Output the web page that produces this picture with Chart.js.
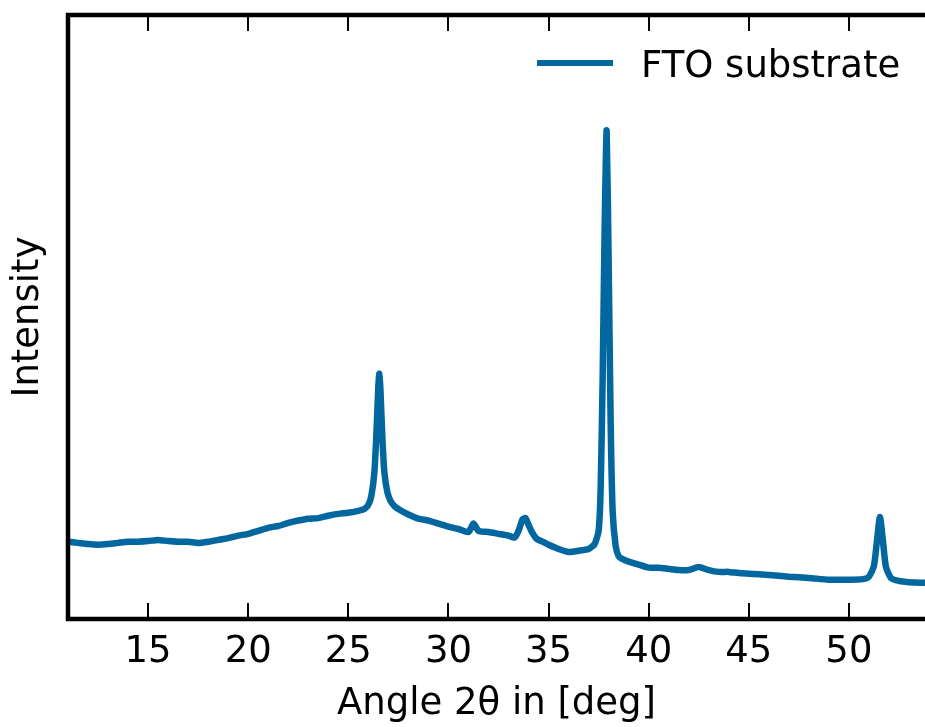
<!DOCTYPE html>
<html>
<head>
<meta charset="utf-8">
<script src="https://cdn.jsdelivr.net/npm/chart.js@4.4.0/dist/chart.umd.min.js"></script>
<style>
  html, body { margin: 0; padding: 0; background: #fff; overflow: hidden; }
  #wrap { width: 925px; height: 727px; }
</style>
</head>
<body>
<div id="wrap"><canvas id="xrd" width="925" height="727"></canvas></div>
<script>
// diffraction pattern (arbitrary intensity units)
const angles = [
  11.0, 11.5, 12.0, 12.5, 13.0, 13.5, 14.0, 14.5, 15.0, 15.5, 16.0, 16.5, 17.0, 17.5, 18.0, 18.5,
  19.0, 19.5, 20.0, 20.5, 21.0, 21.5, 22.0, 22.5, 23.0, 23.5, 24.0, 24.5, 25.0, 25.5, 25.8,
  26.0, 26.15, 26.3, 26.4, 26.5, 26.55, 26.6, 26.7, 26.8, 26.95, 27.1, 27.3, 27.6, 28.0, 28.5, 29.0, 29.5,
  30.0, 30.5, 31.0, 31.25, 31.5, 32.0, 32.5, 33.0, 33.3, 33.5, 33.7, 33.85, 34.0, 34.2, 34.4, 34.7,
  35.0, 35.5, 36.0, 36.5, 37.0, 37.3, 37.5, 37.6, 37.7, 37.8, 37.9, 38.0, 38.1, 38.2, 38.35,
  38.5, 38.7, 39.0, 39.5, 40.0, 40.5, 41.0, 41.5, 42.0, 42.5, 43.0, 43.5, 44.0, 44.5, 45.0,
  46.0, 47.0, 48.0, 49.0, 50.0, 50.7, 51.0, 51.25, 51.4, 51.55, 51.7, 51.85, 52.1, 52.5,
  53.0, 53.8
];
const intensity = [
  12.8, 12.6, 12.4, 12.3, 12.4, 12.6, 12.8, 12.8, 12.9, 13.1, 12.9, 12.8, 12.8, 12.6, 12.8, 13.1,
  13.4, 13.8, 14.1, 14.6, 15.1, 15.4, 15.9, 16.3, 16.6, 16.7, 17.1, 17.4, 17.6, 17.9, 18.2,
  18.9, 20.4, 24.2, 30.5, 38.6, 40.6, 38.2, 30.0, 24.3, 21.0, 19.6, 18.7, 18.0, 17.3, 16.6, 16.3, 15.8,
  15.3, 14.9, 14.4, 15.8, 14.6, 14.4, 14.1, 13.8, 13.5, 14.6, 16.5, 16.7, 15.6, 14.2, 13.3, 12.8,
  12.3, 11.6, 11.1, 11.3, 11.6, 12.4, 14.6, 21.4, 39.6, 64.5, 80.9, 59.4, 32.8, 17.9, 12.1,
  10.4, 9.9, 9.5, 9.0, 8.5, 8.5, 8.3, 8.1, 8.1, 8.6, 8.1, 7.8, 7.8, 7.6, 7.5,
  7.3, 7.0, 6.8, 6.5, 6.5, 6.6, 7.0, 8.8, 12.9, 16.9, 12.9, 8.6, 6.8, 6.3,
  6.1, 6.0
];
const xTicks = [15, 20, 25, 30, 35, 40, 45, 50];
const seriesLabel = 'FTO substrate';

const lineColor = '#03679f';
const fontFamily = '"DejaVu Sans", sans-serif';

const points = angles.map((a, i) => ({ x: a, y: intensity[i] }));

// matplotlib-like frame: left/top/bottom spines and inward ticks
const framePlugin = {
  id: 'frame',
  afterDraw(chart) {
    const { ctx, chartArea: a, scales: { x } } = chart;
    ctx.save();
    ctx.strokeStyle = '#000';
    ctx.lineCap = 'butt';
    ctx.lineWidth = 2;
    xTicks.forEach(v => {
      const px = Math.round(x.getPixelForValue(v));
      ctx.beginPath();
      ctx.moveTo(px, a.bottom);
      ctx.lineTo(px, a.bottom - 16);
      ctx.moveTo(px, a.top);
      ctx.lineTo(px, a.top + 16);
      ctx.stroke();
    });
    ctx.lineWidth = 4.5;
    ctx.lineCap = 'square';
    ctx.beginPath();
    ctx.moveTo(chart.width + 5, a.top);
    ctx.lineTo(a.left, a.top);
    ctx.lineTo(a.left, a.bottom);
    ctx.lineTo(chart.width + 5, a.bottom);
    ctx.stroke();
    ctx.restore();
  }
};

// legend inside the axes, upper right
const legendPlugin = {
  id: 'innerLegend',
  afterDatasetsDraw(chart) {
    const { ctx, chartArea: a } = chart;
    const ds = chart.data.datasets[0];
    ctx.save();
    ctx.strokeStyle = ds.borderColor;
    ctx.lineWidth = 6;
    ctx.beginPath();
    ctx.moveTo(a.right - 388, a.top + 48);
    ctx.lineTo(a.right - 312, a.top + 48);
    ctx.stroke();
    ctx.fillStyle = '#000';
    ctx.font = '37px ' + fontFamily;
    ctx.textBaseline = 'alphabetic';
    ctx.textAlign = 'left';
    ctx.fillText(ds.label, a.right - 284, a.top + 62);
    ctx.restore();
  }
};

new Chart(document.getElementById('xrd'), {
  type: 'line',
  data: {
    datasets: [{
      label: seriesLabel,
      data: points,
      borderColor: lineColor,
      backgroundColor: lineColor,
      borderWidth: 6.5,
      borderJoinStyle: 'round',
      borderCapStyle: 'round',
      pointRadius: 0,
      tension: 0.2
    }]
  },
  options: {
    responsive: false,
    devicePixelRatio: 1,
    animation: false,
    layout: { padding: { top: 15, right: 0, left: 0, bottom: 0 } },
    plugins: { legend: { display: false }, tooltip: { enabled: false } },
    scales: {
      x: {
        type: 'linear',
        min: 11,
        max: 53.8,
        afterBuildTicks: s => { s.ticks = xTicks.map(v => ({ value: v })); },
        afterFit: s => { s.height = 108; },
        grid: { display: false, drawTicks: false },
        border: { display: false },
        ticks: {
          color: '#000',
          padding: 11,
          maxRotation: 0,
          font: { family: fontFamily, size: 37 }
        },
        title: {
          display: true,
          text: 'Angle 2θ in [deg]',
          color: '#000',
          padding: { top: 0, bottom: 0 },
          font: { family: fontFamily, size: 37 }
        }
      },
      y: {
        min: 0,
        max: 100,
        afterFit: s => { s.width = 68; },
        grid: { display: false, drawTicks: false },
        border: { display: false },
        ticks: { display: false },
        title: {
          display: true,
          text: 'Intensity',
          color: '#000',
          padding: { top: 6, bottom: 0 },
          font: { family: fontFamily, size: 37 }
        }
      }
    }
  },
  plugins: [legendPlugin, framePlugin]
});
</script>
</body>
</html>
